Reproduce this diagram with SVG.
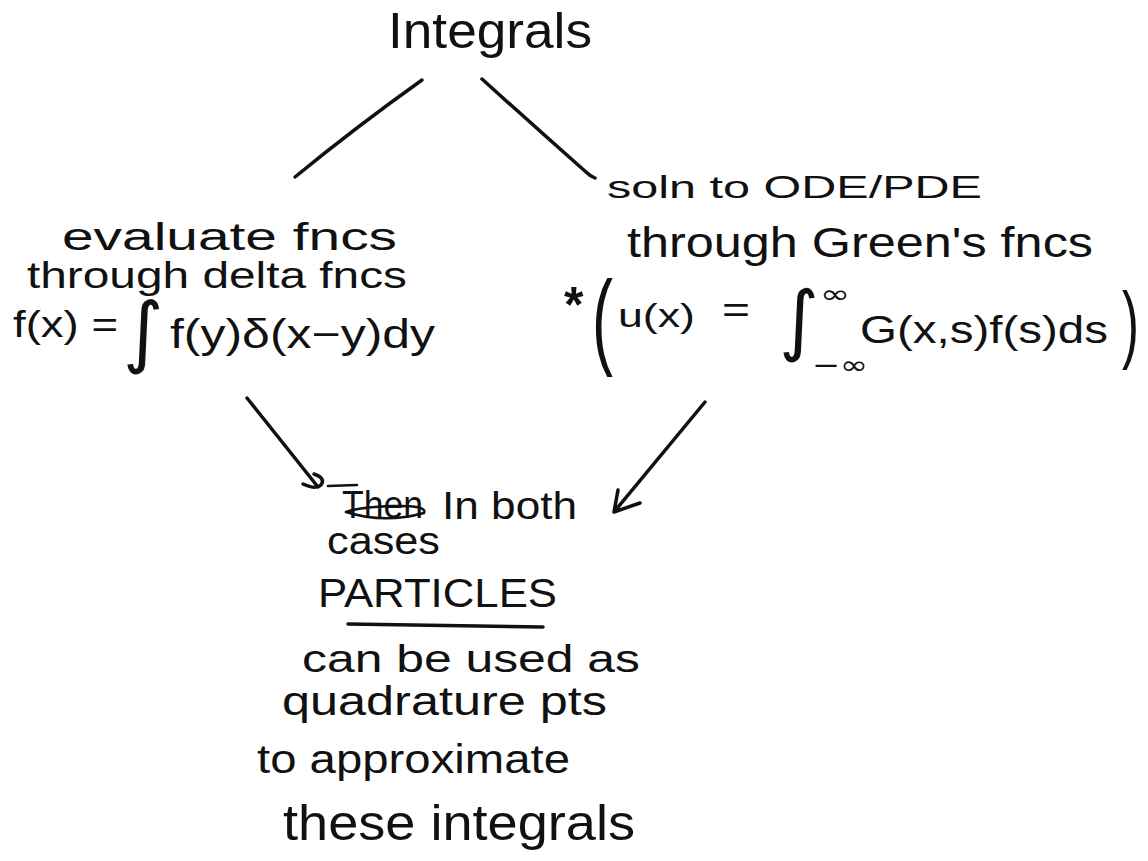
<svg xmlns="http://www.w3.org/2000/svg" width="1148" height="861" viewBox="0 0 1148 861">
<style>
text{font-family:"Liberation Sans",Arial,sans-serif;fill:#111}
.m{font-family:"DejaVu Sans",sans-serif}
.c{fill:none;stroke:#111;stroke-width:3.5;stroke-linecap:round;stroke-linejoin:round}
.s{fill:none;stroke:#111;stroke-width:2.5;stroke-linecap:round}
</style>
<rect width="1148" height="861" fill="#fff"/>
<g id="connectors">
<path class="c" d="M422,80 Q356,127 295,177"/>
<path class="c" d="M482,79 Q535,127 586,172 Q590,176 595,178"/>
<path class="c" d="M247,398 L318,487"/>
<path class="c" d="M303,484 Q316,490 321,485 Q326,478 314,474"/>
<path class="c" d="M705,402 L614,512 M618,490 L614,512 L640,503"/>
</g>
<g id="integrals">
<text x="388" y="48" font-size="50" textLength="204" lengthAdjust="spacingAndGlyphs">Integrals</text>
</g>
<g id="greens">
<text x="607" y="198" font-size="32" textLength="375" lengthAdjust="spacingAndGlyphs">soln to ODE/PDE</text>
<text x="627" y="257" font-size="42" textLength="466" lengthAdjust="spacingAndGlyphs">through Green's fncs</text>
<text x="564" y="322" font-size="50" font-weight="bold">*</text>
<text transform="translate(592,355) scale(0.6,1)" font-size="105">(</text>
<text x="618" y="327" font-size="34" textLength="77" lengthAdjust="spacingAndGlyphs">u(x)</text>
<text x="722" y="322" font-size="36" textLength="28" lengthAdjust="spacingAndGlyphs">=</text>
<text class="m" x="779" y="346" font-size="77">∫</text>
<text class="m" x="820" y="303" font-size="26" textLength="30" lengthAdjust="spacingAndGlyphs">∞</text>
<text class="m" x="812" y="374" font-size="26" textLength="56" lengthAdjust="spacingAndGlyphs">−∞</text>
<text x="860" y="343" font-size="38" textLength="248" lengthAdjust="spacingAndGlyphs">G(x,s)f(s)ds</text>
<text transform="translate(1122,352) scale(0.6,1)" font-size="85">)</text>
</g>
<g id="delta">
<text x="62" y="250" font-size="38" textLength="335" lengthAdjust="spacingAndGlyphs">evaluate fncs</text>
<text x="27" y="288" font-size="36" textLength="380" lengthAdjust="spacingAndGlyphs">through delta fncs</text>
<text x="13" y="337" font-size="36" textLength="105" lengthAdjust="spacingAndGlyphs">f(x) =</text>
<text class="m" x="123" y="358" font-size="78">∫</text>
<text x="170" y="348" font-size="40" textLength="265" lengthAdjust="spacingAndGlyphs">f(y)δ(x−y)dy</text>
</g>
<g id="particles">
<text x="342" y="518" font-size="38" textLength="81" lengthAdjust="spacingAndGlyphs">Then</text>
<path class="s" d="M346,512 Q384,524 424,513 Q428,505 392,506 Q360,507 346,512 M328,486 L357,485"/>
<text x="442" y="519" font-size="38" textLength="135" lengthAdjust="spacingAndGlyphs">In both</text>
<text x="327" y="554" font-size="38" textLength="113" lengthAdjust="spacingAndGlyphs">cases</text>
<text x="318" y="607" font-size="40" textLength="239" lengthAdjust="spacingAndGlyphs">PARTICLES</text>
<path class="c" d="M348,624 L543,627" stroke-width="3"/>
<text x="302" y="672" font-size="38" textLength="338" lengthAdjust="spacingAndGlyphs">can be used as</text>
<text x="282" y="715" font-size="40" textLength="325" lengthAdjust="spacingAndGlyphs">quadrature pts</text>
<text x="257" y="773" font-size="40" textLength="313" lengthAdjust="spacingAndGlyphs">to approximate</text>
<text x="283" y="840" font-size="50" textLength="352" lengthAdjust="spacingAndGlyphs">these integrals</text>
</g>
</svg>
